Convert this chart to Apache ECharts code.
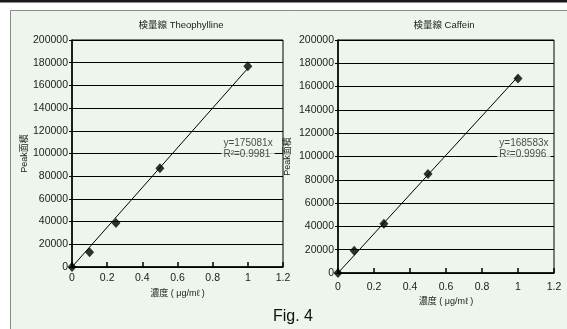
<!DOCTYPE html>
<html>
<head>
<meta charset="utf-8">
<script src="https://cdn.jsdelivr.net/npm/echarts@6/dist/echarts.min.js"></script>
<style>
html,body{margin:0;padding:0;background:#fff;}
#c{width:567px;height:329px;}
</style>
</head>
<body>
<div id="c"></div>
<script>
// ---- data ----
var titles = ['検量線 Theophylline', '検量線 Caffein'];
var theoX = [0, 0.1, 0.25, 0.5, 1.0];
var theoY = [0, 13000, 38800, 87000, 176800];
var cafX = [0, 0.09, 0.255, 0.5, 1.0];
var cafY = [0, 19000, 42300, 84900, 167000];
var slopes = [175081, 168583];
var r2 = ['0.9981', '0.9996'];
var yTicks = [0, 20000, 40000, 60000, 80000, 100000, 120000, 140000, 160000, 180000, 200000];
var xTicks = [0, 0.2, 0.4, 0.6, 0.8, 1, 1.2];
var yName = 'Peak面積';
var xName = '濃度 ( μg/mℓ )';
var figLabel = 'Fig. 4';
// annotation anchor (data coords)
var annX = [0.85, 0.885];
var annY = [104500, 106500];

var BG = '#eef5ec';
var FONT = '"Liberation Sans", Arial, "Noto Sans CJK JP", sans-serif';

function pts(xs, ys) { return xs.map(function (x, i) { return [x, ys[i]]; }); }

var grids = [
  {left: 72, top: 40, width: 211, height: 227},
  {left: 338, top: 40, width: 216, height: 233}
];
var labelMarginX = [6, 9];
var nameGapX = [22, 24];
var nameGapY = [39, 46];

var option = {
  animation: false,
  backgroundColor: '#fff',
  textStyle: {fontFamily: FONT},
  graphic: [
    {type: 'rect', shape: {x: 0, y: 0, width: 567, height: 2.5}, style: {fill: '#1a1a1a'}},
    {type: 'rect', shape: {x: 10.5, y: 10.5, width: 600, height: 400}, style: {fill: BG, stroke: '#8a8a8a', lineWidth: 1}, z: -10},
    {type: 'text', x: 181, y: 25, style: {text: titles[0], font: '9.5px ' + FONT, fill: '#222', align: 'center', verticalAlign: 'middle'}},
    {type: 'text', x: 444, y: 25, style: {text: titles[1], font: '9.5px ' + FONT, fill: '#222', align: 'center', verticalAlign: 'middle'}},
    {type: 'text', x: 293, y: 317, style: {text: figLabel, font: '16px ' + FONT, fill: '#111', align: 'center', verticalAlign: 'middle'}}
  ],
  grid: grids.map(function (g) {
    return Object.assign({show: true, borderColor: '#000', borderWidth: 1, backgroundColor: 'transparent'}, g);
  }),
  xAxis: [0, 1].map(function (i) {
    return {
      type: 'value', gridIndex: i, min: 0, max: 1.2, interval: 0.2,
      name: xName, nameLocation: 'middle', nameGap: nameGapX[i],
      nameTextStyle: {fontSize: 9, color: '#222', fontFamily: FONT},
      axisLine: {show: true, lineStyle: {color: '#000', width: 1.5}},
      axisTick: {show: true, inside: true, length: 5, lineStyle: {color: '#000', width: 1.5}},
      splitLine: {show: false},
      axisLabel: {fontSize: 10.5, color: '#222', margin: labelMarginX[i], fontFamily: FONT,
        formatter: function (v) { return String(Math.round(v * 10) / 10); }}
    };
  }),
  yAxis: [0, 1].map(function (i) {
    return {
      type: 'value', gridIndex: i, min: 0, max: 200000, interval: 20000,
      name: yName, nameLocation: 'middle', nameGap: nameGapY[i],
      nameTextStyle: {fontSize: 9, color: '#222', fontFamily: FONT},
      axisLine: {show: true, lineStyle: {color: '#000', width: 1.5}},
      axisTick: {show: true, inside: false, length: 3, lineStyle: {color: '#000'}},
      splitLine: {show: true, lineStyle: {color: '#000', width: 1}},
      axisLabel: {fontSize: 10.5, color: '#222', margin: 4, fontFamily: FONT,
        formatter: function (v) { return String(v); }}
    };
  }),
  series: []
};

var datasets = [pts(theoX, theoY), pts(cafX, cafY)];
[0, 1].forEach(function (i) {
  option.series.push({
    type: 'line', xAxisIndex: i, yAxisIndex: i, symbol: 'none',
    data: [[0, 0], [1, slopes[i]]],
    lineStyle: {color: '#000', width: 1}, z: 3, silent: true
  });
  option.series.push({
    type: 'scatter', xAxisIndex: i, yAxisIndex: i, symbol: 'diamond', symbolSize: [9, 10],
    data: datasets[i], itemStyle: {color: '#000'}, z: 5, silent: true
  });
  option.series.push({
    type: 'scatter', xAxisIndex: i, yAxisIndex: i, symbolSize: 0,
    data: [[annX[i], annY[i]]], silent: true, z: 6,
    label: {
      show: true, position: 'right', distance: 0,
      formatter: 'y=' + slopes[i] + 'x\nR²=' + r2[i],
      fontSize: 10, color: '#222', lineHeight: 11, fontFamily: FONT,
      backgroundColor: BG, padding: [0, 2, 0, 2], align: 'left'
    }
  });
});

var chart = echarts.init(document.getElementById('c'), null, {renderer: 'canvas'});
chart.setOption(option);
</script>
</body>
</html>
